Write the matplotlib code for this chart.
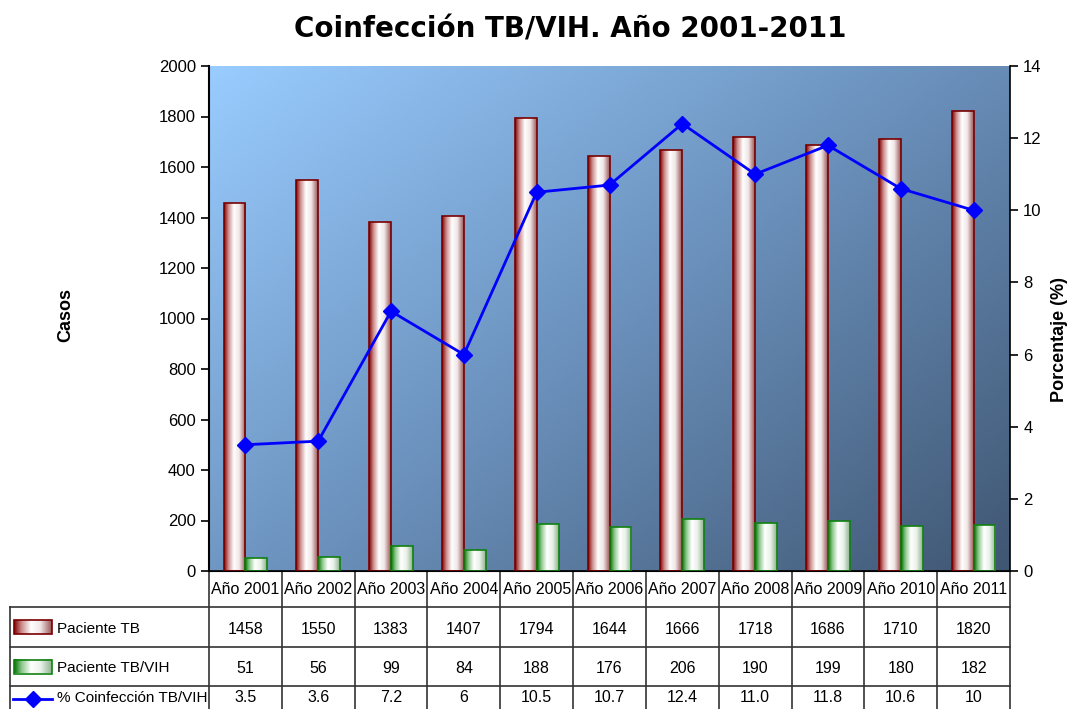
import numpy as np
import matplotlib
matplotlib.use('Agg')
import matplotlib.pyplot as plt
from matplotlib.colors import LinearSegmentedColormap
from matplotlib.patches import Rectangle
from matplotlib.lines import Line2D

plt.rcParams['font.family'] = ['Liberation Sans', 'DejaVu Sans']

# data
years = ['Año 2001', 'Año 2002', 'Año 2003', 'Año 2004', 'Año 2005', 'Año 2006',
         'Año 2007', 'Año 2008', 'Año 2009', 'Año 2010', 'Año 2011']
paciente_tb = [1458, 1550, 1383, 1407, 1794, 1644, 1666, 1718, 1686, 1710, 1820]
paciente_vih = [51, 56, 99, 84, 188, 176, 206, 190, 199, 180, 182]
coinfeccion = [3.5, 3.6, 7.2, 6, 10.5, 10.7, 12.4, 11.0, 11.8, 10.6, 10]
coinf_labels = ['3.5', '3.6', '7.2', '6', '10.5', '10.7', '12.4', '11.0', '11.8', '10.6', '10']
series_names = ['Paciente TB', 'Paciente TB/VIH', '% Coinfección TB/VIH']

W, H = 1070, 709
fig = plt.figure(figsize=(W / 100, H / 100), dpi=100)
L, R, T, B = 209, 1010, 66, 571
ax = fig.add_axes([L / W, 1 - B / H, (R - L) / W, (B - T) / H])

def axx(px):
    return (px - L) / (R - L)

def axy(py):
    return (B - py) / (B - T)

# gradient colormaps
red_cmap = LinearSegmentedColormap.from_list('red', [
    (0.0, (0.50, 0.0, 0.0)), (0.2, (0.80, 0.55, 0.55)), (0.45, (1, 1, 1)),
    (0.7, (0.94, 0.90, 0.90)), (1.0, (0.60, 0.33, 0.33))])
green_cmap = LinearSegmentedColormap.from_list('green', [
    (0.0, (0.0, 0.45, 0.0)), (0.2, (0.55, 0.78, 0.55)), (0.45, (1, 1, 1)),
    (0.7, (0.92, 0.95, 0.92)), (1.0, (0.55, 0.70, 0.55))])
bg_cmap = LinearSegmentedColormap.from_list('bg', [
    (0.0, (0.60, 0.80, 1.0)), (0.5, (0.42, 0.57, 0.74)), (1.0, (0.25, 0.34, 0.45))])

grad = np.linspace(0, 1, 256).reshape(1, -1)

# background, light top-left to dark bottom-right
gx, gy = np.meshgrid(np.linspace(0, 1, 200), np.linspace(0, 1, 200))
bg = gx * 0.55 + gy * 0.45
x = np.arange(len(years))
ax.imshow(bg, cmap=bg_cmap, extent=[-0.5, 10.5, 0, 2000], origin='upper', aspect='auto',
          zorder=0, interpolation='bilinear')

w = 0.30
bars_tb = ax.bar(x - w / 2, paciente_tb, width=w, facecolor='none', edgecolor='#7a0000',
                 linewidth=1.2, zorder=3)
bars_vih = ax.bar(x + w / 2, paciente_vih, width=w, facecolor='none', edgecolor='#108010',
                  linewidth=1.2, zorder=3)
for bars, cmap in [(bars_tb, red_cmap), (bars_vih, green_cmap)]:
    for b in bars:
        x0, y0 = b.get_x(), b.get_y()
        im = ax.imshow(grad, cmap=cmap, extent=[x0, x0 + b.get_width(), y0, y0 + b.get_height()],
                       aspect='auto', zorder=2, interpolation='bilinear')
        im.set_clip_path(b)

ax.set_xlim(-0.5, 10.5)
ax.set_ylim(0, 2000)
ax.set_yticks(range(0, 2001, 200))
ax.set_xticks([])
ax.tick_params(axis='y', labelsize=12, length=6, width=1.2)
ax.spines['top'].set_visible(False)
ax.spines['right'].set_visible(False)
ax.spines['left'].set_linewidth(1.5)
ax.spines['bottom'].set_linewidth(1.2)

ax2 = ax.twinx()
ax2.plot(x, coinfeccion, color='#0000ff', lw=2, marker='D', markersize=8, zorder=5)
ax2.set_ylim(0, 14)
ax2.set_yticks(range(0, 15, 2))
ax2.tick_params(axis='y', labelsize=12, length=6, width=1.2)
ax2.spines['top'].set_visible(False)
ax2.spines['left'].set_visible(False)
ax2.spines['right'].set_linewidth(1.2)
ax2.set_xlim(-0.5, 10.5)

fig.text(66 / W, 1 - 315 / H, 'Casos', rotation=90, ha='center', va='center',
         fontsize=13, fontweight='bold')
fig.text(1060 / W, 1 - 340 / H, 'Porcentaje (%)', rotation=90, ha='center', va='center',
         fontsize=13, fontweight='bold')
fig.text(570 / W, 1 - 30 / H, 'Coinfección TB/VIH. Año 2001-2011', ha='center', va='center',
         fontsize=20, fontweight='bold', family=['DejaVu Sans'])

# data table
rows = [571, 607, 647, 686, 709]
lk = dict(color='#333333', lw=1.2, transform=ax.transAxes, clip_on=False)
n = len(years)
for i in range(n + 1):
    ax.add_line(Line2D([i / n, i / n], [axy(571), axy(712)], **lk))
for py in rows[1:4]:
    ax.add_line(Line2D([axx(10), 1], [axy(py), axy(py)], **lk))
ax.add_line(Line2D([axx(10), axx(10)], [axy(607), axy(712)], **lk))

fs = 11.5
cells = [paciente_tb, paciente_vih, coinf_labels]
for i, yr in enumerate(years):
    xc = (i + 0.5) / n
    ax.text(xc, axy(589), yr, transform=ax.transAxes, ha='center', va='center', fontsize=fs)
    for r, vals in enumerate(cells):
        yc = (rows[r + 1] + rows[r + 2]) / 2 + 2
        if r == 2:
            yc = 698
        ax.text(xc, axy(yc), str(vals[i]), transform=ax.transAxes, ha='center', va='center',
                fontsize=fs)

# legend keys in the table
for r, (name, cmap, ec) in enumerate([(series_names[0], red_cmap, '#7a0000'),
                                      (series_names[1], green_cmap, '#108010')]):
    yc = (rows[r + 1] + rows[r + 2]) / 2
    ext = [axx(14), axx(52), axy(yc + 7), axy(yc - 7)]
    im = ax.imshow(grad, cmap=cmap, extent=ext, aspect='auto', transform=ax.transAxes,
                   interpolation='bilinear', zorder=3)
    im.set_clip_on(False)
    ax.add_patch(Rectangle((ext[0], ext[2]), ext[1] - ext[0], ext[3] - ext[2], facecolor='none',
                           edgecolor=ec, lw=1.2, transform=ax.transAxes, clip_on=False, zorder=4))
    ax.text(axx(57), axy(yc + 2), name, transform=ax.transAxes, ha='left', va='center',
            fontsize=11)
yc = 699
ax.add_line(Line2D([axx(13), axx(52)], [axy(yc), axy(yc)], color='#0000ff', lw=2,
                   transform=ax.transAxes, clip_on=False))
ax.add_line(Line2D([axx(32.5)], [axy(yc)], color='#0000ff', marker='D', markersize=8,
                   transform=ax.transAxes, clip_on=False))
ax.text(axx(57), axy(698), series_names[2], transform=ax.transAxes, ha='left', va='center',
        fontsize=11)

ax.set_xlim(-0.5, 10.5)
ax.set_ylim(0, 2000)
fig.savefig('out.png', dpi=100)
